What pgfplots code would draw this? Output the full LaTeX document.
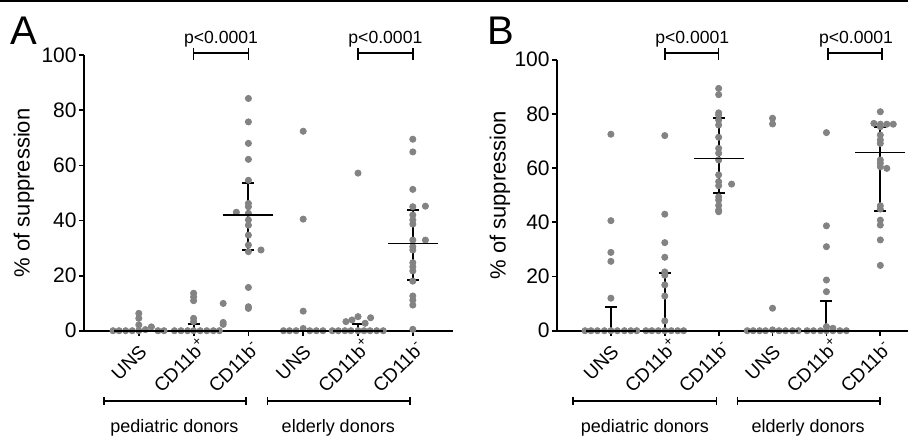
\documentclass[border=0pt]{standalone}
\usepackage{fontspec}
\setmainfont{Liberation Sans}
\usepackage{pgfplots}
\usepackage{pgfplotstable}
\pgfplotsset{compat=1.18}
\definecolor{dot}{HTML}{838383}

% dots of panel A (x = category + jitter)
\pgfplotstableread{
x y
0.53 0
0.64 0
0.76 0
0.88 0
1.00 0
1.00 2.1
1.00 4.5
1.00 6.3
1.12 0.4
1.23 1.4
1.35 0
1.46 0
1.65 0
1.77 0
1.89 0
2.00 0
2.12 0
2.24 0
2.36 0
2.47 0
2.00 3.3
2.00 4.5
2.00 10.9
2.00 12.3
2.00 13.6
2.54 2.3
2.54 3.0
2.54 9.9
3.00 84.3
3.00 75.8
3.00 68.0
3.00 62.2
3.00 54.6
3.00 46.2
3.00 45.0
2.78 43.0
3.00 42.6
3.00 40.2
3.00 38.3
3.00 34.7
3.00 31.1
3.00 28.7
3.23 29.3
3.00 15.7
3.00 8.7
3.00 8.1
3.64 0
3.75 0
3.87 0
4.00 0.8
4.12 0
4.24 0
4.36 0
4.00 7.1
4.00 40.5
4.00 72.4
4.53 0
4.64 0
4.76 0
4.87 0
5.00 0
5.11 0
5.22 0
5.34 0
5.46 0
4.78 3.3
4.89 3.9
5.00 5.1
5.13 2.7
5.23 4.7
5.00 57.2
6.00 69.5
6.00 64.9
6.00 51.3
6.00 45.0
6.23 45.2
6.00 42.0
6.00 40.2
6.00 38.7
6.00 32.9
6.23 32.9
6.00 30.5
6.00 29.3
6.00 24.7
6.00 23.2
6.00 21.7
6.00 18.0
6.00 12.6
6.00 11.1
6.00 9.3
6.00 0.5
}\dotsA

% dots of panel B
\pgfplotstableread{
x y
0.52 0
0.63 0
0.75 0
0.88 0
1.00 0
1.12 0
1.25 0
1.37 0
1.48 0
1.00 12.0
1.00 25.6
1.00 28.9
1.00 40.6
1.00 72.5
1.65 0
1.76 0
1.88 0
2.00 0
2.12 0
2.24 0
2.35 0
2.00 3.6
2.00 12.8
2.00 16.9
2.00 20.5
2.00 21.7
2.00 27.1
2.00 32.5
2.00 43.0
2.00 72.0
3.00 89.4
3.00 87.1
3.00 80.4
3.00 79.6
3.00 77.7
3.00 75.9
3.00 71.4
3.00 67.3
3.00 65.5
3.00 63.0
3.00 57.5
3.00 55.0
3.00 53.5
3.24 54.1
3.00 49.4
3.00 48.2
3.00 46.2
3.00 44.5
3.00 43.9
3.53 0
3.64 0
3.76 0
3.87 0
4.00 0.3
4.12 0
4.24 0
4.37 0
4.48 0
4.00 8.3
4.00 76.3
4.00 78.4
4.64 0
4.76 0
4.89 0
5.00 0
5.12 0
5.25 0
5.37 0
5.00 1.5
5.12 0.9
5.00 14.4
5.00 18.7
5.00 31.0
5.00 38.7
5.00 73.1
6.00 80.8
5.88 76.5
6.00 76.2
6.12 76.2
6.24 76.2
6.00 75.3
6.00 72.2
6.00 70.4
6.00 69.1
6.00 63.0
6.00 61.8
6.00 60.5
6.12 59.9
6.00 46.1
6.00 44.9
6.00 40.8
6.00 39.0
6.00 33.5
6.00 24.1
}\dotsB

\newcommand\sps[1]{\rlap{\textsuperscript{#1}}}
\pgfplotsset{
  panel/.style={
    scale only axis, anchor=south west,
    axis x line*=bottom, axis y line*=left,
    axis line style={-, line width=0.9pt},
    xmin=0, ymin=0, ymax=100,
    xtick={1,...,6},
    xticklabels={UNS, CD11b\sps{+}, CD11b\sps{-}, UNS, CD11b\sps{+}, CD11b\sps{-}},
    ytick={0,20,...,100},
    tick align=outside, major tick length=2.5pt,
    tick style={line width=0.9pt, black},
    clip=false,
    /pgf/number format/assume math mode=true,
    yticklabel style={font=\fontsize{10.5}{12}\selectfont, inner xsep=1pt},
    xticklabel style={font=\fontsize{9.5}{11}\selectfont, xshift=7pt, yshift=-6.2pt, rotate=45, anchor=base east},
    ylabel={\% of suppression},
    every axis y label/.style={at={(axis description cs:-0.163,0.5)}, rotate=90, anchor=center, font=\fontsize{11}{13}\selectfont},
  },
  dots/.style={only marks, mark=*, mark size=1.55pt, color=dot, mark options={draw=dot, fill=dot}},
  med/.style={black, only marks, mark=-, mark size=12.5pt, mark options={black, line width=0.8pt},
    error bars/y dir=both, error bars/y explicit,
    error bars/error mark options={rotate=90, black, mark size=3pt, line width=1pt},
    error bars/error bar style={black, line width=1pt}},
}
\newcommand\pbracket[3]{\draw[line width=0.8pt] (axis cs:#1,#3) ++(0,2.5pt) -- ++(0,-6pt) ++(0,3.5pt) -- (axis cs:#2,#3) ++(0,2.5pt) -- ++(0,-6pt);}
\newcommand\gbracket[3]{\draw[line width=0.9pt] (axis cs:#1,#3) ++(0,2pt) -- ++(0,-4pt) ++(0,2pt) -- (axis cs:#2,#3) ++(0,2pt) -- ++(0,-4pt);}

\begin{document}
\begin{tikzpicture}
\path[use as bounding box] (0,0) rectangle (454pt,218pt);
\draw[line width=0.9pt] (0,217.6pt) -- (454pt,217.6pt);
\node[anchor=base west, inner sep=0pt, font=\fontsize{20}{22}\selectfont] at (5pt,196pt) {A};
\node[anchor=base west, inner sep=0pt, font=\fontsize{20}{22}\selectfont] at (243.5pt,196pt) {B};

\begin{axis}[panel, at={(42pt,52.65pt)}, width=184.4pt, height=137.75pt, xmax=6.73]
\addplot[dots] table {\dotsA};
\addplot[med] coordinates {
 (1,0) += (0,0) -= (0,0)
 (2,0) += (0,2.3) -= (0,0)
 (3,42.1) += (0,11.6) -= (0,12.8)
 (4,0) += (0,0) -= (0,0)
 (5,0) += (0,2.4) -= (0,0)
 (6,31.7) += (0,12.1) -= (0,13.3)
};
\pbracket{2}{3}{100.7}
\pbracket{5}{6}{100.7}
\node[anchor=base, font=\fontsize{8.8}{10}\selectfont] at (axis cs:2.5,104.3) {p<0.0001};
\node[anchor=base, font=\fontsize{8.8}{10}\selectfont] at (axis cs:5.5,104.3) {p<0.0001};
\gbracket{0.365}{2.96}{-25.5}
\gbracket{3.35}{5.95}{-25.5}
\node[anchor=base, font=\fontsize{9}{10}\selectfont] at (axis cs:1.65,-36.9) {pediatric donors};
\node[anchor=base, font=\fontsize{9}{10}\selectfont] at (axis cs:4.64,-36.9) {elderly donors};
\end{axis}

\begin{axis}[panel, at={(278.5pt,52.65pt)}, width=175.4pt, height=135.5pt, xmax=6.51]
\addplot[dots] table {\dotsB};
\addplot[med] coordinates {
 (1,0) += (0,8.9) -= (0,0)
 (2,0) += (0,21.2) -= (0,0)
 (3,63.6) += (0,14.8) -= (0,12.9)
 (4,0) += (0,0) -= (0,0)
 (5,0) += (0,11) -= (0,0)
 (6,65.7) += (0,9.3) -= (0,21.4)
};
\pbracket{2}{3}{102.4}
\pbracket{5.03}{6.03}{102.4}
\node[anchor=base, font=\fontsize{8.8}{10}\selectfont] at (axis cs:2.51,106) {p<0.0001};
\node[anchor=base, font=\fontsize{8.8}{10}\selectfont] at (axis cs:5.55,106) {p<0.0001};
\gbracket{0.30}{2.96}{-25.9}
\gbracket{3.35}{5.99}{-25.9}
\node[anchor=base, font=\fontsize{9}{10}\selectfont] at (axis cs:1.63,-37.5) {pediatric donors};
\node[anchor=base, font=\fontsize{9}{10}\selectfont] at (axis cs:4.66,-37.5) {elderly donors};
\end{axis}
\end{tikzpicture}
\end{document}
